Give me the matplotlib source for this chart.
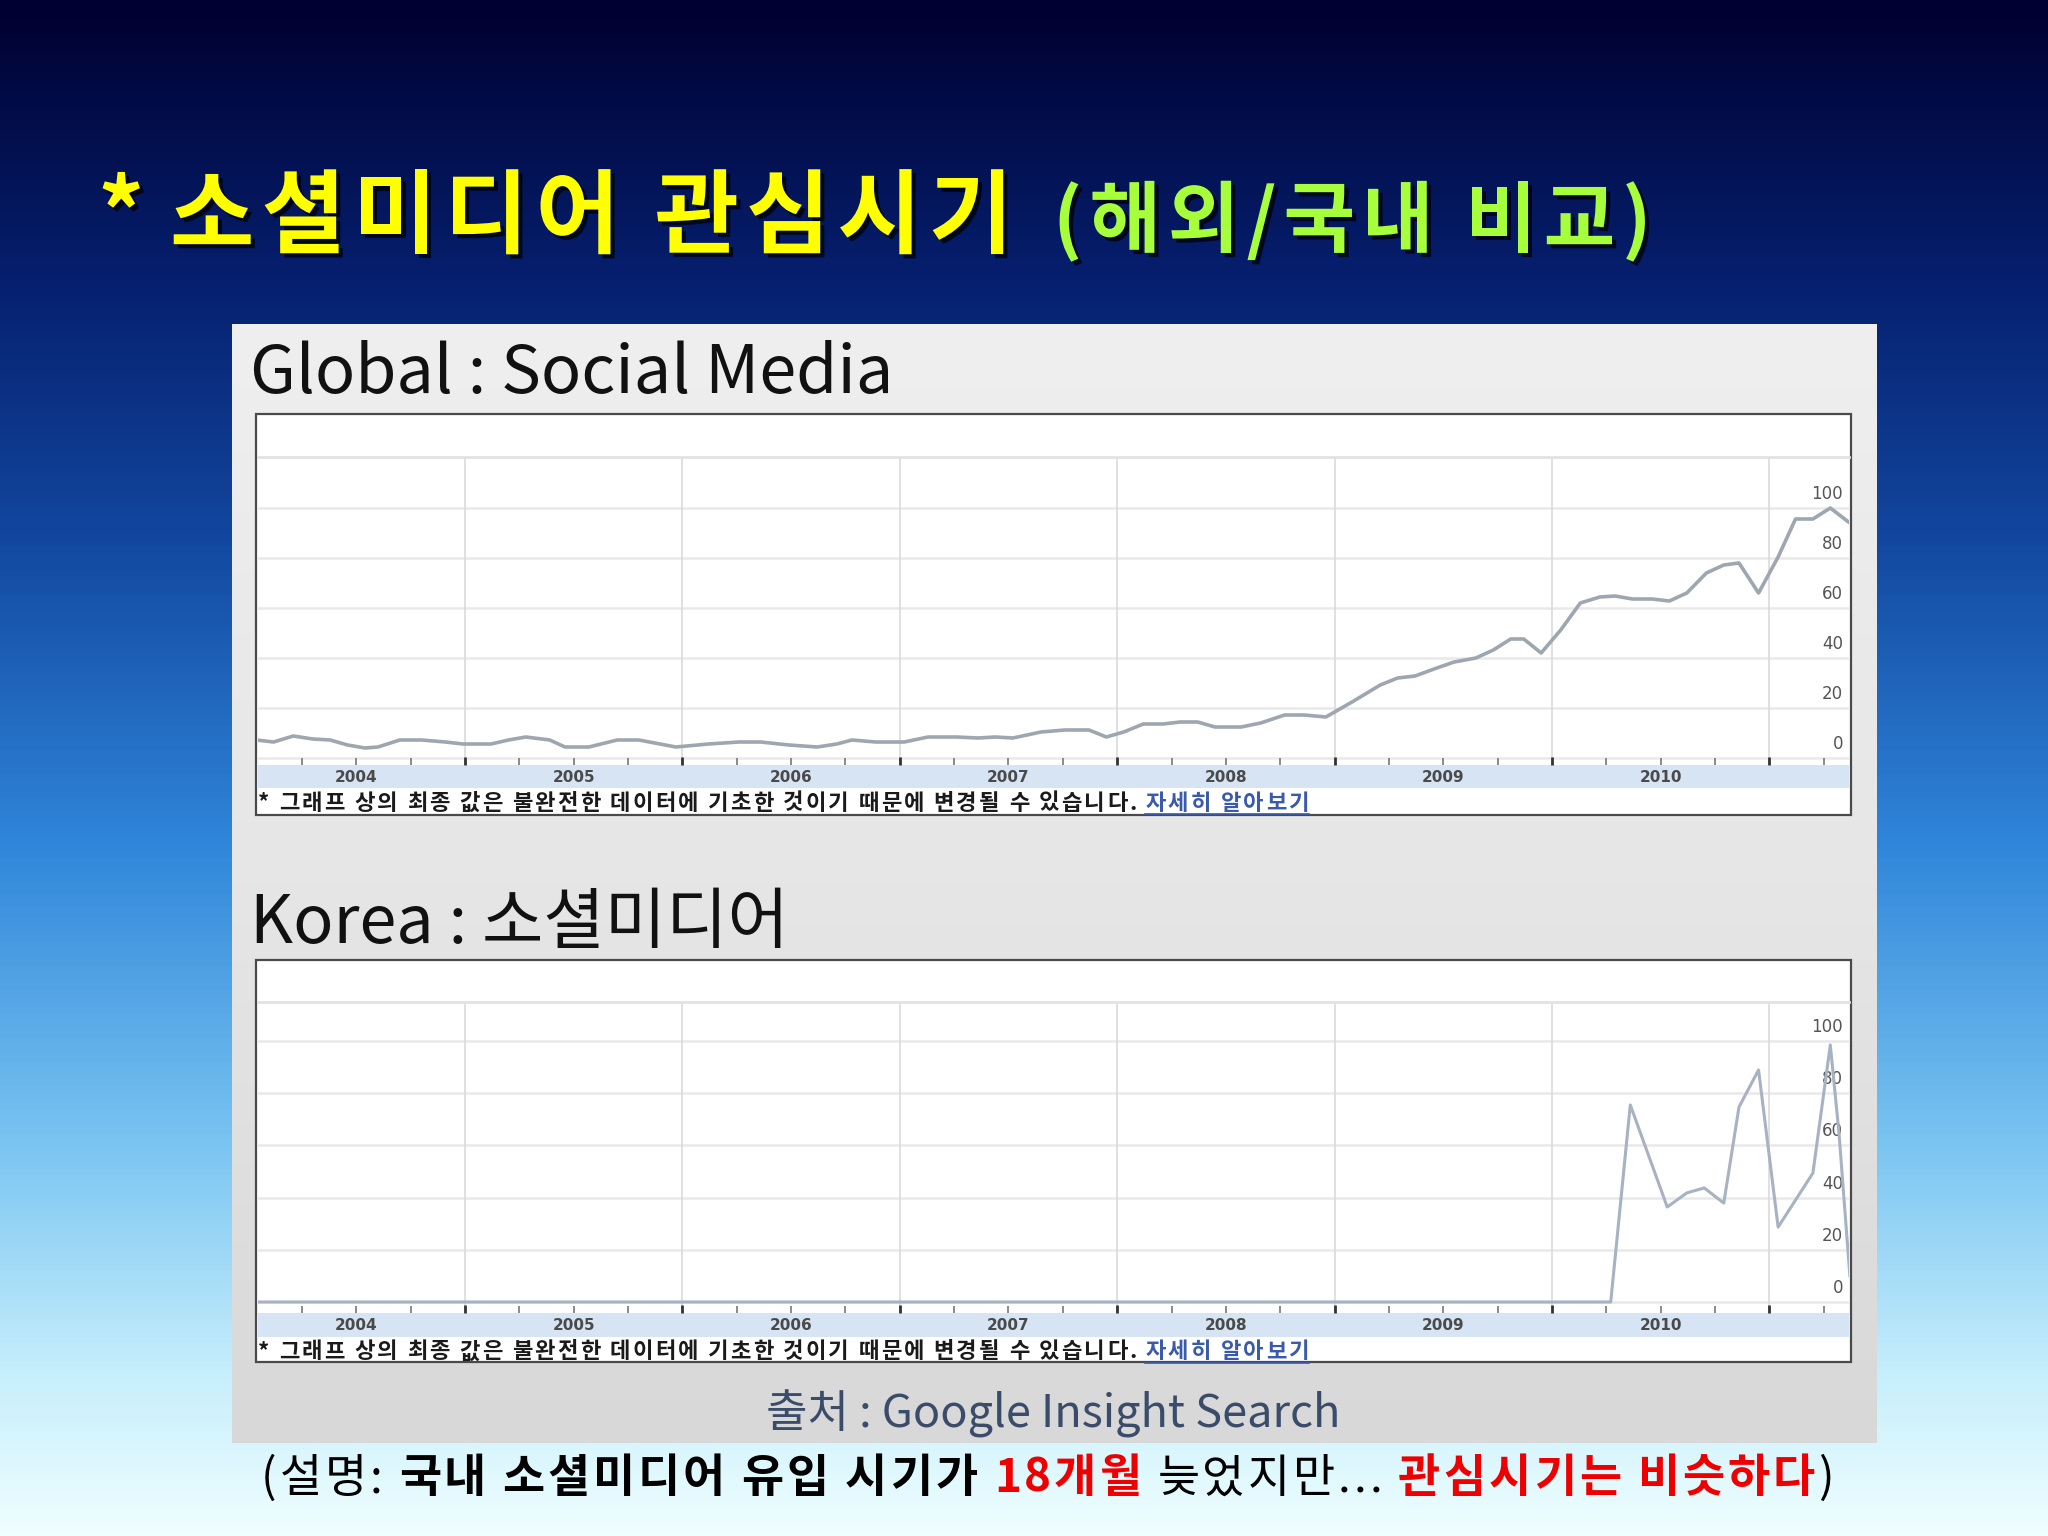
import numpy as np
import matplotlib.pyplot as plt
import matplotlib.patheffects as pe
from matplotlib import transforms
from matplotlib.colors import LinearSegmentedColormap
from matplotlib.patches import Rectangle

plt.rcParams['font.family'] = ['Noto Sans CJK KR', 'DejaVu Sans']

# ---- data ----
global_years = [2004.04, 2004.12, 2004.21, 2004.30, 2004.38, 2004.46, 2004.54, 2004.60,
                2004.70, 2004.80, 2004.91, 2004.99, 2005.12, 2005.20, 2005.28, 2005.39,
                2005.46, 2005.57, 2005.70, 2005.80, 2005.97, 2006.12, 2006.26, 2006.36,
                2006.49, 2006.62, 2006.71, 2006.78, 2006.89, 2007.02, 2007.13, 2007.26,
                2007.36, 2007.44, 2007.52, 2007.65, 2007.76, 2007.87, 2007.95, 2008.03,
                2008.12, 2008.21, 2008.29, 2008.37, 2008.45, 2008.57, 2008.66, 2008.77,
                2008.86, 2008.96, 2009.08, 2009.21, 2009.29, 2009.37, 2009.47, 2009.55,
                2009.65, 2009.73, 2009.81, 2009.87, 2009.95, 2010.04, 2010.13, 2010.22,
                2010.29, 2010.37, 2010.46, 2010.54, 2010.62, 2010.71, 2010.79, 2010.86,
                2010.95, 2011.04, 2011.12, 2011.20, 2011.28, 2011.37]
global_values = [7.2, 6.4, 8.8, 7.6, 7.2, 5.2, 4.0, 4.4,
                 7.2, 7.2, 6.4, 5.6, 5.6, 7.2, 8.4, 7.2,
                 4.4, 4.4, 7.2, 7.2, 4.4, 5.6, 6.4, 6.4,
                 5.2, 4.4, 5.6, 7.2, 6.4, 6.4, 8.4, 8.4,
                 8.0, 8.4, 8.0, 10.4, 11.2, 11.2, 8.4, 10.4,
                 13.6, 13.6, 14.4, 14.4, 12.4, 12.4, 14.0, 17.2,
                 17.2, 16.4, 22.4, 29.2, 32.0, 32.8, 36.0, 38.4,
                 40.0, 43.2, 47.6, 47.6, 42.0, 51.2, 62.0, 64.4,
                 64.8, 63.6, 63.6, 62.8, 66.0, 74.0, 77.2, 78.0,
                 66.0, 80.4, 95.6, 95.6, 100.0, 94.0]

korea_years = [2004.05, 2010.27, 2010.36, 2010.53, 2010.62, 2010.70, 2010.79, 2010.86,
               2010.95, 2011.04, 2011.20, 2011.28, 2011.32, 2011.37]
korea_values = [0, 0, 75.5, 36.4, 41.8, 43.7, 37.9, 74.7,
                88.9, 28.7, 49.4, 98.5, 64.7, 10.0]

year_labels = ['2004', '2005', '2006', '2007', '2008', '2009', '2010']
y_ticks = [0, 20, 40, 60, 80, 100]

W, H = 2048, 1536
fig = plt.figure(figsize=(W / 100, H / 100), dpi=100)


def px_axes(x0, y0, x1, y1):
    return fig.add_axes([x0 / W, 1 - y1 / H, (x1 - x0) / W, (y1 - y0) / H])


# background in pixel coordinates
bg = px_axes(0, 0, W, H)
sky = LinearSegmentedColormap.from_list('sky', [
    (0.00, '#000030'), (0.18, '#061f6e'), (0.35, '#12479f'),
    (0.55, '#2f86da'), (0.75, '#7cc6f2'), (0.90, '#c8effc'), (1.00, '#effeff')])
bg.imshow(np.linspace(0, 1, 512).reshape(-1, 1), cmap=sky, aspect='auto',
          extent=(0, W, H, 0))
panel = LinearSegmentedColormap.from_list('panel', ['#efefef', '#e6e6e6', '#d8d8d8'])
bg.imshow(np.linspace(0, 1, 256).reshape(-1, 1), cmap=panel, aspect='auto',
          extent=(232, 1877, 1443, 324))
bg.set_xlim(0, W)
bg.set_ylim(H, 0)
bg.axis('off')
renderer = fig.canvas.get_renderer()


def text_w(s, **kw):
    t = bg.text(0, 0, s, **kw)
    w = t.get_window_extent(renderer=renderer).width
    t.remove()
    return w


def put_row(x, y, parts, track=0, **common):
    # draw char by char so the letter spacing can be opened up like the slide font
    for s, kw in parts:
        props = dict(common, **kw)
        sp = text_w('가 가', **props) - text_w('가가', **props)
        for ch in s:
            if ch == ' ':
                x += sp + track
                continue
            t = bg.text(x, y, ch, **props)
            x += t.get_window_extent(renderer=renderer).width + track
    return x


# slide title
shadow = [pe.withSimplePatchShadow(offset=(3, -3), shadow_rgbFace='black', alpha=0.7)]
put_row(98, 246, [('*', dict(color='#ffff00', fontsize=66))],
        va='baseline', fontweight='bold', path_effects=shadow)
put_row(170, 246, [('소셜미디어 관심시기', dict(color='#ffff00', fontsize=66))],
        track=7, va='baseline', fontweight='bold', path_effects=shadow)
put_row(1053, 246, [('(해외/국내 비교)', dict(color='#a6ff3a', fontsize=56))],
        track=7, va='baseline', fontweight='bold', path_effects=shadow)


def chart(box, plot_top, zero_y, px_per_unit, band, title, title_y, years, values, lw, color):
    x0, y0, x1, y1 = box
    bg.add_patch(Rectangle((x0, y0), x1 - x0, y1 - y0, facecolor='white',
                           edgecolor='#4a4a4a', lw=1.6, zorder=1))
    bg.add_patch(Rectangle((x0 + 2, band[0]), x1 - x0 - 4, band[1] - band[0],
                           facecolor='#d6e4f4', edgecolor='none', zorder=2))
    bg.text(250, title_y, title, fontsize=48, color='#111111', va='baseline')

    ax = px_axes(x0 + 2, plot_top, x1 - 2, band[0])
    ax.set_facecolor('none')
    for s in ['left', 'right', 'bottom']:
        ax.spines[s].set_visible(False)
    ax.spines['top'].set_color('#e2e2e2')
    ax.spines['top'].set_linewidth(2)

    # quarter ticks, year boundaries heavier
    ax.set_xticks(range(2005, 2012))
    ax.set_xticks([y + q / 4 for y in range(2004, 2012) for q in (1, 2, 3)
                   if y + q / 4 < 2011.36], minor=True)
    ax.tick_params(axis='x', which='major', direction='in', length=6, width=2,
                   color='#333333', labelbottom=False)
    ax.tick_params(axis='x', which='minor', direction='in', length=5, width=1.2,
                   color='#777777')
    ax.set_yticks([])
    ax.set_xlim(2004.048, 2011.366)
    ax.set_ylim(-(band[0] - zero_y) / px_per_unit, (zero_y - plot_top) / px_per_unit)

    for v in y_ticks:
        ax.axhline(v, color='#e9e9e9', lw=1.8, zorder=0)
    for yr in range(2005, 2012):
        ax.axvline(yr, color='#dadada', lw=1.2, zorder=0)

    lab = transforms.offset_copy(
        transforms.blended_transform_factory(ax.transAxes, ax.transData),
        fig=fig, x=-6, y=14, units='dots')
    for v in y_ticks:
        ax.text(1.0, v, str(v), transform=lab, ha='right', va='center',
                fontsize=12, color='#555555', family='DejaVu Sans', zorder=1)

    ax.plot(years, values, color=color, lw=lw, zorder=3, solid_joinstyle='round')

    yl = transforms.blended_transform_factory(ax.transData, bg.transData)
    for i, s in enumerate(year_labels):
        ax.text(2004.5 + i, (band[0] + band[1]) / 2 + 1, s, transform=yl, ha='center',
                va='center', fontsize=11, color='#4a4a4a', family='DejaVu Sans',
                fontweight='bold', clip_on=False)

    ny = band[1] + 15
    end = put_row(258, ny, [('* 그래프 상의 최종 값은 불완전한 데이터에 기초한 것이기 때문에 변경될 수 있습니다.',
                             dict(color='#1a1a1a'))],
                  track=2.2, va='center', fontsize=16, fontweight='bold')
    start = end + 6
    end = put_row(start, ny, [('자세히 알아보기', dict(color='#3a5bab'))],
                  track=2.2, va='center', fontsize=16, fontweight='bold')
    bg.plot([start, end - 2], [ny + 11, ny + 11], color='#3a5bab', lw=1.2)
    return ax


chart((256, 414, 1851, 815), 457, 758, 2.5, (765, 788), 'Global : Social Media', 393,
      global_years, global_values, 2.6, '#9ea6b0')
chart((256, 960, 1851, 1362), 1002, 1302, 2.61, (1313, 1337), 'Korea : 소셜미디어', 943,
      korea_years, korea_values, 2.2, '#a7b2c2')

# source line
bg.text(1053, 1414, '출처 : Google Insight Search', ha='center', va='center',
        fontsize=32.5, color='#3b4c6b')

# explanation line
put_row(261, 1479, [
    ('(', dict(color='black')),
    ('설명: ', dict(color='black')),
    ('국내 소셜미디어 유입 시기가 ', dict(color='black', fontweight='bold')),
    ('18개월', dict(color='#ee0000', fontweight='bold')),
    (' 늦었지만... ', dict(color='black')),
    ('관심시기는 비슷하다', dict(color='#ee0000', fontweight='bold')),
    (')', dict(color='black')),
], track=3.0, va='center', fontsize=33)

fig.savefig('out.png', dpi=100)
